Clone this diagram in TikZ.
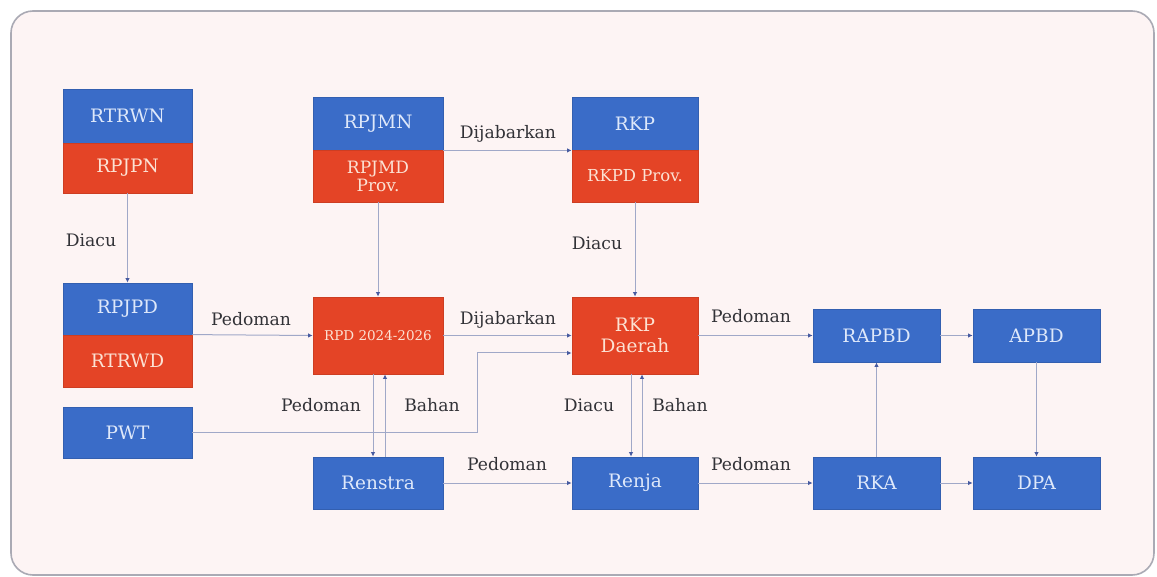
\documentclass[tikz,border=0pt]{standalone}
\usepackage{fontspec}
\setmainfont{DejaVu Serif}
\usetikzlibrary{arrows.meta,calc}
\definecolor{bblue}{RGB}{58,108,200}
\definecolor{bred}{RGB}{228,68,38}
\definecolor{bgpink}{RGB}{253,244,244}
\definecolor{frame}{RGB}{170,170,180}
\definecolor{conn}{RGB}{160,168,200}
\definecolor{tipc}{RGB}{70,90,160}
\definecolor{labc}{RGB}{50,50,55}
\definecolor{wtxtb}{RGB}{222,232,250}
\definecolor{wtxtr}{RGB}{252,226,212}
\begin{document}
\begin{tikzpicture}[x=1pt,y=-1pt,
  bluebox/.style={rectangle,fill=bblue,draw=bblue!88!black,line width=0.8pt,text=wtxtb,
    minimum width=129pt,inner sep=2pt,align=center,font=\fontsize{18.5}{20}\selectfont},
  redbox/.style={bluebox,fill=bred,draw=bred!90!black,text=wtxtr},
  link/.style={draw=conn,line width=1pt,-{Latex[length=4.5pt,width=4.5pt,color=tipc]}},
  lab/.style={text=labc,font=\fontsize{17.2}{19}\selectfont,inner sep=1pt}]
\useasboundingbox (0,0) rectangle (1157,577);
\fill[white] (0,0) rectangle (1157,577);
\draw[frame,fill=bgpink,line width=1.6pt,rounded corners=22pt] (11,11) rectangle (1154,575);
% top-left stack
\node[bluebox,minimum height=54pt] (rtrwn) at (127.5,116) {RTRWN};
\node[redbox,minimum height=50pt] (rpjpn) at (127.5,168) {RPJPN};
% RPJMN stack
\node[bluebox,minimum width=130pt,minimum height=53pt] (rpjmn) at (378,123.5) {RPJMN};
\node[redbox,minimum width=130pt,minimum height=52pt,font=\fontsize{17}{18}\selectfont] (rpjmd) at (378,176) {RPJMD\\Prov.};
% RKP stack
\node[bluebox,minimum width=126pt,minimum height=53pt] (rkp) at (635,123.5) {RKP};
\node[redbox,minimum width=126pt,minimum height=52pt,font=\fontsize{16.5}{18}\selectfont] (rkpd) at (635,176) {RKPD Prov.};
% RPJPD stack
\node[bluebox,minimum height=52pt] (rpjpd) at (127.5,309) {RPJPD};
\node[redbox,minimum height=52pt] (rtrwd) at (127.5,361) {RTRWD};
\node[bluebox,minimum height=51pt] (pwt) at (127.5,432.5) {PWT};
% middle row
\node[redbox,minimum width=130pt,minimum height=77pt,font=\fontsize{13.5}{15}\selectfont] (rpd) at (378,335.5) {RPD 2024-2026};
\node[redbox,minimum width=126pt,minimum height=77pt,font=\fontsize{18.5}{21}\selectfont] (rkpdaerah) at (635,335.5) {RKP\\Daerah};
\node[bluebox,minimum width=127pt,minimum height=53pt] (rapbd) at (876.5,335.5) {RAPBD};
\node[bluebox,minimum width=127pt,minimum height=53pt] (apbd) at (1036.5,335.5) {APBD};
% bottom row
\node[bluebox,minimum width=130pt,minimum height=52pt] (renstra) at (378,483) {Renstra};
\node[bluebox,minimum width=126pt,minimum height=52pt] (renja) at (635,483) {Renja};
\node[bluebox,minimum width=127pt,minimum height=52pt] (rka) at (876.5,483) {RKA};
\node[bluebox,minimum width=127pt,minimum height=52pt] (dpa) at (1036.5,483) {DPA};
% connectors
\draw[link] (rpjpn.south) -- (rpjpd.north);
\node[lab] (l1) at (91,240) {Diacu};
\draw[link] (rpjmd.south) -- (rpd.north);
\draw[link] (rpjmn.south east) -- (rkp.south west);
\node[lab] (l2) at (508,134) {Dijabarkan};
\draw[link] (rkpd.south) -- (rkpdaerah.north);
\node[lab] (l3) at (597,243) {Diacu};
\draw[link] (rtrwd.north east) -- (rpd.west);
\node[lab] (l4) at (251,319) {Pedoman};
\draw[link] (rpd.east) -- (rkpdaerah.west);
\node[lab] (l5) at (508,320) {Dijabarkan};
\coordinate (pb) at (477,353);
\draw[link] (pwt.east) -| (pb) -- (rkpdaerah.west |- pb);
% RPD <-> Renstra
\draw[link] (rpd.south -| 373,0) -- (renstra.north -| 373,0);
\draw[link] (renstra.north -| 385,0) -- (rpd.south -| 385,0);
\node[lab] (l6) at (321,405) {Pedoman};
\node[lab] (l7) at (432,405) {Bahan};
% RKP Daerah <-> Renja
\draw[link] (rkpdaerah.south -| 631,0) -- (renja.north -| 631,0);
\draw[link] (renja.north -| 642,0) -- (rkpdaerah.south -| 642,0);
\node[lab] (l8) at (589,405) {Diacu};
\node[lab] (l9) at (680,405) {Bahan};
% bottom row links
\draw[link] (renstra.east) -- (renja.west);
\node[lab] (l10) at (507,464) {Pedoman};
\draw[link] (rkpdaerah.east) -- (rapbd.west);
\node[lab] (l11) at (751,316) {Pedoman};
\draw[link] (rapbd.east) -- (apbd.west);
\draw[link] (rka.north) -- (rapbd.south);
\draw[link] (apbd.south) -- (dpa.north);
\draw[link] (renja.east) -- (rka.west);
\node[lab] (l12) at (751,464) {Pedoman};
\draw[link] (rka.east) -- (dpa.west);
\end{tikzpicture}
\end{document}
